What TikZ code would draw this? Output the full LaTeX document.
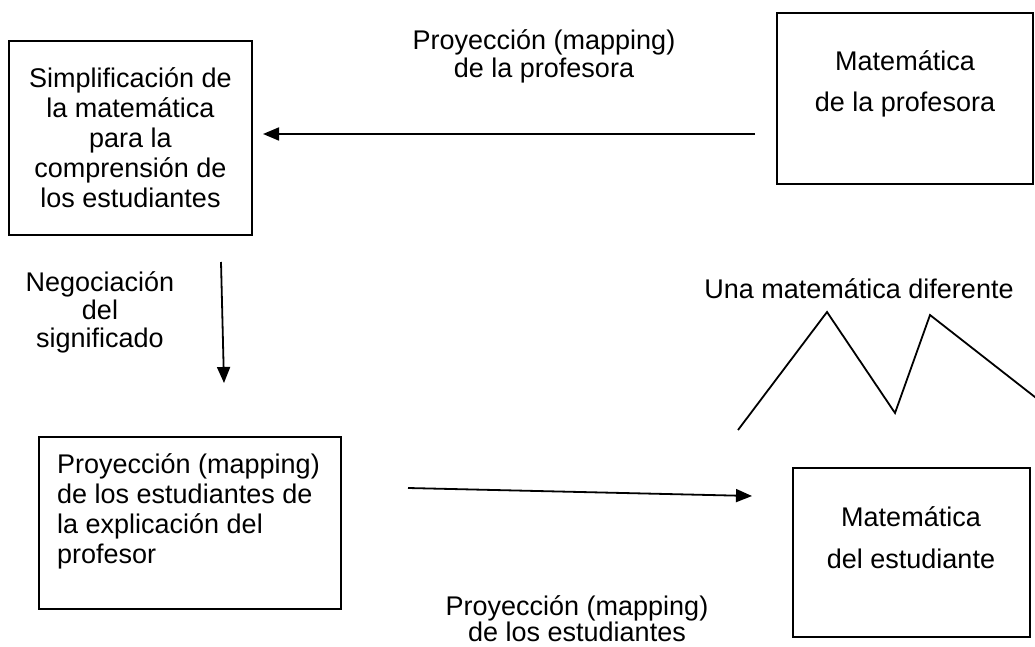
\documentclass[tikz,border=0pt]{standalone}
\usepackage{fontspec}
\setmainfont{Liberation Sans}
\usetikzlibrary{arrows.meta}
\begin{document}
\begin{tikzpicture}[x=1pt,y=-1pt,
  box/.style={draw, line width=1.8pt, inner sep=0pt, rectangle},
  txt/.style={inner sep=0pt, font=\fontsize{27}{30}\selectfont, align=center},
  arr/.style={-{Triangle[length=16pt,width=13pt]}, line width=1.8pt}]
\useasboundingbox (0,0) rectangle (1035,647);
% boxes
\node[box, minimum width=243pt, minimum height=194pt] (simp) at (130.5,138) {};
\node[box, minimum width=256pt, minimum height=171pt] (matprof) at (905,98.5) {};
\node[box, minimum width=302pt, minimum height=172pt] (proyest) at (190,523) {};
\node[box, minimum width=237pt, minimum height=169pt] (matest) at (911.5,552.5) {};
% box texts
\node[txt] (tsimp) at (130.5,138) {Simplificación de\\la matemática\\para la\\comprensión de\\los estudiantes};
\node[txt, font=\fontsize{27}{41}\selectfont] (tmatprof) at (905,84) {Matemática\\de la profesora};
\node[txt, align=left, anchor=west] (tproyest) at (57,511) {Proyección (mapping)\\de los estudiantes de\\la explicación del\\profesor};
\node[txt, font=\fontsize{27}{42}\selectfont] (tmatest) at (911,538) {Matemática\\del estudiante};
% free labels
\node[txt, font=\fontsize{27}{28}\selectfont] (lprof) at (544,56) {Proyección (mapping)\\de la profesora};
\node[txt, font=\fontsize{27}{28}\selectfont] (lneg) at (100,312) {Negociación\\del\\significado};
\node[txt] (ldif) at (859,289) {Una matemática diferente};
\node[txt, font=\fontsize{27}{24}\selectfont] (lest) at (577,619) {Proyección (mapping)\\de los estudiantes};
% connectors
\coordinate (a1) at (755,134);
\coordinate (a2) at (263,134);
\coordinate (b1) at (221,262);
\coordinate (b2) at (224,383);
\coordinate (c1) at (408,488);
\coordinate (c2) at (752,496);
\draw[arr] (a1) -- (a2);
\draw[arr] (b1) -- (b2);
\draw[arr] (c1) -- (c2);
% zigzag
\draw[line width=1.8pt] (738,430) -- (827,312) -- (895,413) -- (930,315) -- (1040,401);
\end{tikzpicture}
\end{document}
